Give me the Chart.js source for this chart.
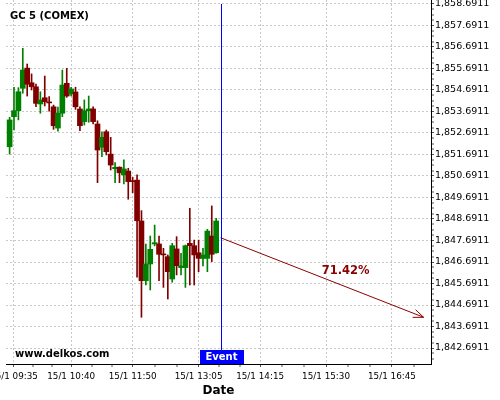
<!DOCTYPE html>
<html><head><meta charset="utf-8">
<script src="https://cdn.jsdelivr.net/npm/chart.js@4.4.1/dist/chart.umd.min.js"></script>
<style>html,body{margin:0;padding:0;background:#fff;overflow:hidden}</style>
</head><body>
<canvas id="c" width="500" height="400" style="display:block;width:500px;height:400px"></canvas>
<script>
// ---- data ----
const chartTitle = 'GC 5 (COMEX)';
const siteText = 'www.delkos.com';
const dateLabel = '15/1';
const times = ['09:30','09:35','09:40','09:45','09:50','09:55','10:00','10:05','10:10','10:15','10:20','10:25',
  '10:30','10:35','10:40','10:45','10:50','10:55','11:00','11:05','11:10','11:15','11:20','11:25',
  '11:30','11:35','11:40','11:45','11:50','11:55','12:00','12:05','12:10','12:15','12:20','12:25',
  '12:30','12:35','12:40','12:45','12:50','12:55','13:00','13:05','13:10','13:15','13:20','13:25'];
const opens = [1852.05,1853.45,1853.73,1854.77,1855.71,1855.03,1854.84,1854.04,1854.33,1854.11,1853.91,1852.92,
  1853.61,1855.00,1854.51,1854.60,1853.81,1853.22,1853.73,1853.81,1853.11,1852.03,1852.75,1851.71,
  1851.03,1851.10,1850.74,1850.92,1850.47,1850.50,1848.60,1845.82,1846.60,1847.53,1847.53,1847.06,
  1846.94,1845.90,1847.30,1846.43,1846.43,1847.56,1847.45,1847.12,1846.86,1846.86,1847.90,1847.12];
const highs = [1853.42,1854.82,1854.80,1856.63,1855.90,1855.44,1854.97,1854.61,1855.34,1854.38,1853.99,1853.90,
  1855.62,1855.70,1854.82,1854.82,1853.91,1854.23,1854.41,1853.91,1853.26,1852.75,1852.83,1852.49,
  1851.31,1851.12,1851.44,1851.05,1850.63,1850.74,1849.08,1847.53,1847.90,1848.41,1847.90,1847.33,
  1847.02,1847.56,1847.87,1847.10,1847.48,1849.19,1847.71,1847.71,1847.33,1848.21,1849.30,1848.72];
const lows = [1851.71,1852.83,1853.30,1854.54,1854.41,1854.69,1853.91,1853.61,1853.95,1853.71,1852.86,1852.78,
  1853.45,1854.35,1854.41,1853.79,1852.80,1853.06,1853.19,1853.11,1850.38,1851.59,1851.67,1850.97,
  1850.38,1850.38,1850.32,1849.61,1849.91,1845.98,1844.12,1845.62,1845.39,1847.44,1845.82,1845.51,
  1844.97,1845.75,1846.09,1846.09,1845.51,1845.62,1845.62,1846.24,1846.51,1846.24,1846.71,1847.10];
const closes = [1853.30,1853.73,1854.61,1855.62,1854.96,1854.84,1854.07,1854.23,1854.15,1854.09,1853.03,1853.62,
  1854.92,1854.41,1854.74,1853.91,1853.03,1853.73,1853.81,1853.22,1851.90,1852.49,1851.82,1851.20,
  1851.10,1850.84,1851.02,1850.43,1850.43,1848.61,1845.82,1846.60,1847.28,1847.59,1847.05,1847.02,
  1846.24,1847.45,1846.52,1846.51,1847.45,1847.45,1847.02,1846.86,1847.02,1848.13,1847.05,1848.60];
const xTickTimes = ['09:35','10:40','11:50','13:05','14:15','15:30','16:45'];
const yTickValues = [1842.6911,1843.6911,1844.6911,1845.6911,1846.6911,1847.6911,1848.6911,1849.6911,1850.6911,
  1851.6911,1852.6911,1853.6911,1854.6911,1855.6911,1856.6911,1857.6911,1858.6911];
const eventTime = '13:30';
const eventText = 'Event';
const arrowTimes = ['13:30','17:21'];
const arrowValues = [1847.82, 1844.12];
const arrowText = '71.42%';
const xRange = ['09:25.9','17:29.4'];
const yRange = [1841.947, 1858.877];

// ---- helpers ----
const toMin = s => { const [h, m] = s.split(':'); return (+h) * 60 + parseFloat(m); };
const fmtNum = v => { const s = v.toFixed(4).split('.'); return s[0].replace(/\B(?=(\d{3})+(?!\d))/g, ',') + '.' + s[1]; };
const pad2 = n => String(n).padStart(2, '0');
const fmtTime = m => pad2(Math.floor(m / 60)) + ':' + pad2(Math.round(m % 60));
const GREEN = '#008000', RED = '#800000';
const candleColors = opens.map((o, i) => closes[i] >= o ? GREEN : RED);
const xMajor = xTickTimes.map(toMin);
const xMin = toMin(xRange[0]), xMax = toMin(xRange[1]);
const xAll = [];
xMajor.forEach((m, i) => {
  xAll.push({ value: m, major: true });
  const step = i < xMajor.length - 1 ? (xMajor[i + 1] - m) / 3 : (m - xMajor[i - 1]) / 3;
  [1, 2].forEach(k => { const v = m + k * step; if (v < xMax) xAll.push({ value: v, major: false }); });
});
xAll.sort((a, b) => a.value - b.value);
const xMajorFlags = xAll.map(t => t.major);
const yAll = [];
yTickValues.forEach(v => [0, 0.25, 0.5, 0.75].forEach(f => yAll.push({ value: v + f, major: f === 0 })));
[0.25, 0.5, 0.75].forEach(f => yAll.push({ value: yTickValues[0] - f, major: false }));
const yTicksAll = yAll.filter(t => t.value > yRange[0] && t.value < yRange[1]).sort((a, b) => a.value - b.value);
const yMajorFlags = yTicksAll.map(t => t.major);

const overlay = {
  id: 'overlay',
  afterDatasetsDraw(chart) {
    const { ctx, chartArea: a, scales: { x, y } } = chart;
    ctx.save();
    ctx.textBaseline = 'middle';
    ctx.textAlign = 'left';
    ctx.fillStyle = '#000';
    ctx.font = 'bold 10px "DejaVu Sans"';
    ctx.fillText(chartTitle, 10, 16);
    ctx.fillText(siteText, 15, 354);
    // event marker
    const ex = Math.round(x.getPixelForValue(toMin(eventTime))) + 0.5;
    const boxH = 14, boxW = 44;
    ctx.strokeStyle = '#0000ff';
    ctx.lineWidth = 1;
    ctx.beginPath();
    ctx.moveTo(ex, Math.round(y.getPixelForValue(yTickValues[yTickValues.length - 1])));
    ctx.lineTo(ex, a.bottom - boxH);
    ctx.stroke();
    ctx.fillStyle = '#0000ff';
    ctx.fillRect(Math.round(ex - boxW / 2), a.bottom - boxH, boxW, boxH);
    ctx.fillStyle = '#fff';
    ctx.textAlign = 'center';
    ctx.fillText(eventText, ex, a.bottom - boxH / 2 + 0.5);
    // arrow head + label
    const pts = chart.getDatasetMeta(2).data;
    const p0 = pts[0], p1 = pts[1];
    const ang = Math.atan2(p1.y - p0.y, p1.x - p0.x);
    ctx.strokeStyle = '#8b0000';
    ctx.beginPath();
    [0.38, -0.38].forEach(d => {
      ctx.moveTo(p1.x, p1.y);
      ctx.lineTo(p1.x - 11 * Math.cos(ang + d), p1.y - 11 * Math.sin(ang + d));
    });
    ctx.stroke();
    const f = 0.616;
    const lx = p0.x + (p1.x - p0.x) * f, ly = p0.y + (p1.y - p0.y) * f - 16;
    ctx.fillStyle = '#8b0000';
    ctx.font = 'bold 11.5px "DejaVu Sans"';
    ctx.fillText(arrowText, lx, ly);
    ctx.restore();
  }
};

Chart.defaults.font.family = '"DejaVu Sans", sans-serif';
Chart.defaults.color = '#000';

new Chart(document.getElementById('c'), {
  type: 'bar',
  data: {
    datasets: [
      {
        label: 'body',
        data: times.map((t, i) => ({ x: toMin(t), y: [opens[i], closes[i]] })),
        backgroundColor: candleColors,
        barThickness: 5,
        minBarLength: 1,
        grouped: false,
        borderWidth: 0
      },
      {
        label: 'wick',
        data: times.map((t, i) => ({ x: toMin(t), y: [lows[i], highs[i]] })),
        backgroundColor: candleColors,
        barThickness: 1,
        grouped: false,
        borderWidth: 0
      },
      {
        type: 'line',
        label: 'arrow',
        data: arrowTimes.map((t, i) => ({ x: toMin(t), y: arrowValues[i] })),
        borderColor: '#8b0000',
        borderWidth: 1,
        pointRadius: 0,
        fill: false
      }
    ]
  },
  options: {
    responsive: false,
    animation: false,
    devicePixelRatio: 1,
    layout: { padding: { left: 6, right: 0, top: 0, bottom: 0 } },
    plugins: { legend: { display: false }, title: { display: false }, tooltip: { enabled: false } },
    scales: {
      x: {
        type: 'linear',
        position: 'bottom',
        min: xMin, max: xMax,
        offset: false,
        afterBuildTicks: s => { s.ticks = xAll.map(t => ({ value: t.value })); },
        afterFit: s => { s.height = 36; s.paddingLeft = 0; s.paddingRight = 0; },
        ticks: {
          autoSkip: false, maxRotation: 0, padding: 4,
          font: { size: 8.8 }, color: '#000',
          callback: (v, i) => xMajorFlags[i] ? dateLabel + ' ' + fmtTime(v) : ''
        },
        grid: {
          offset: false,
          color: c => xMajorFlags[c.index] ? '#c8c8c8' : 'transparent',
          lineWidth: c => xMajorFlags[c.index] ? 1 : 0,
          tickColor: '#555', tickLength: 3, tickWidth: 1
        },
        border: { display: true, color: '#000', width: 1, dash: [2, 2] },
        title: { display: true, text: 'Date', font: { size: 12, weight: 'bold' }, color: '#000', padding: { top: 0, bottom: 2 } }
      },
      y: {
        type: 'linear',
        position: 'right',
        min: yRange[0], max: yRange[1],
        beginAtZero: false,
        afterBuildTicks: s => { s.ticks = yTicksAll.map(t => ({ value: t.value })); },
        afterFit: s => { s.width = 69; s.paddingTop = 0; s.paddingBottom = 0; },
        ticks: {
          autoSkip: false, padding: 1,
          font: { size: 9.5 }, color: '#000',
          callback: (v, i) => yMajorFlags[i] ? fmtNum(v) : ''
        },
        grid: {
          color: c => yMajorFlags[c.index] ? '#c8c8c8' : 'transparent',
          lineWidth: c => yMajorFlags[c.index] ? 1 : 0,
          tickColor: '#555', tickLength: 3, tickWidth: 1
        },
        border: { display: true, color: '#000', width: 1, dash: [2, 2] }
      }
    }
  },
  plugins: [overlay]
});
</script>
</body></html>
